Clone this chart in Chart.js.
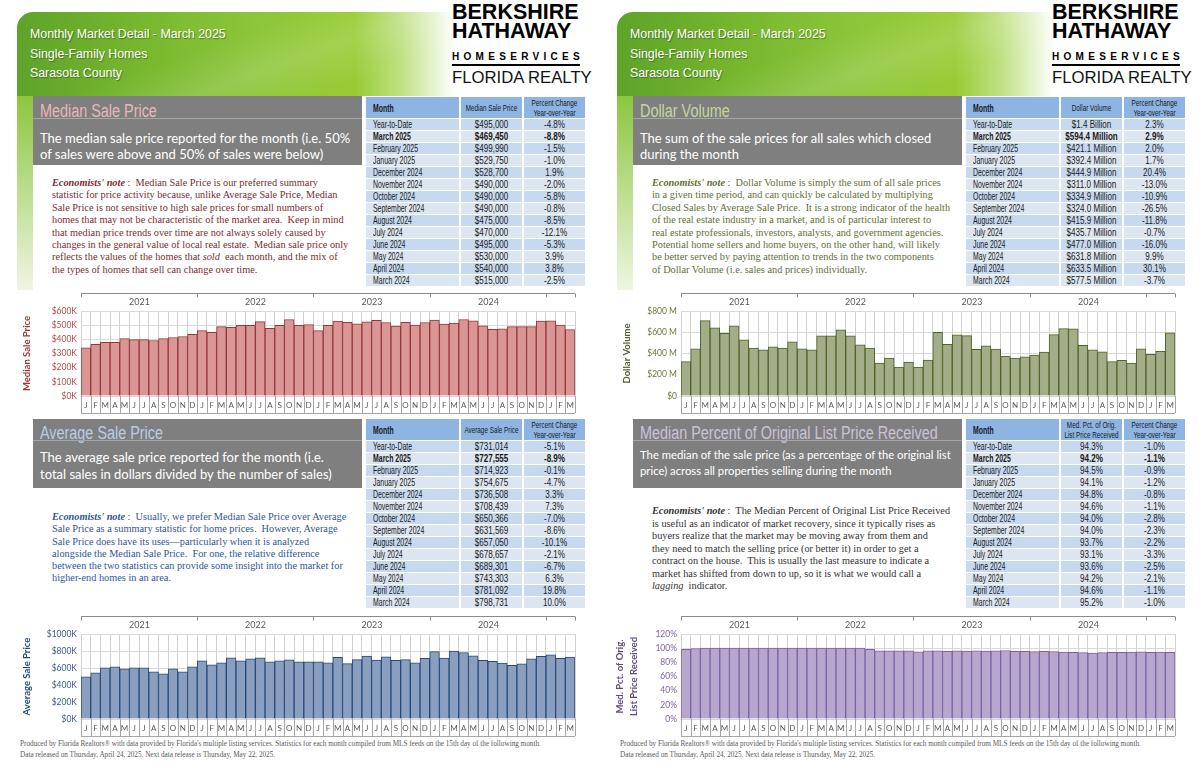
<!DOCTYPE html>
<html>
<head>
<meta charset="utf-8">
<script src="https://cdn.jsdelivr.net/npm/chart.js@4.4.1/dist/chart.umd.min.js"></script>
<style>
  body { margin: 0; width: 1200px; height: 776px; overflow: hidden; background: #fff; position: relative; font-family: 'Liberation Sans', sans-serif; }
  .panel { position: absolute; top: 0; width: 600px; height: 776px; }
  .hdr { position: absolute; left: 17px; top: 12px; width: 583px; height: 84px; border-top-left-radius: 16px;
    background: linear-gradient(160deg, rgba(255,255,255,0) 35%, rgba(255,255,255,0.13) 50%, rgba(255,255,255,0) 65%),
                linear-gradient(90deg, #5ea32a 0%, #78b82e 22%, #8dc63a 42%, #98cc35 58%, rgba(170,215,90,0.75) 66%, rgba(255,255,255,0) 75%); }
  .strip { position: absolute; left: 17px; top: 96px; width: 16px; height: 194px; background: linear-gradient(to bottom, #8cc63e, #eef6e2); }
  .htxt { position: absolute; left: 30px; color: #fff; font: 13px 'Liberation Sans', sans-serif; line-height: 19.5px; white-space: nowrap;
    transform: scaleX(0.95); transform-origin: 0 0; text-shadow: 1px 1px 1px rgba(0,0,0,0.35); }
  .logo1 { position: absolute; left: 452px; font: bold 21.5px 'Liberation Sans', sans-serif; line-height: 21.5px; color: #000; }
  .logo2 { position: absolute; left: 452px; top: 52px; font: bold 10px 'Liberation Sans', sans-serif; letter-spacing: 4.3px; line-height: 10px; color: #000; }
  .logoline { position: absolute; left: 452px; top: 64px; width: 128px; height: 1.5px; background: #000; }
  .logo3 { position: absolute; left: 452px; top: 68px; font: 16.7px 'Liberation Sans', sans-serif; line-height: 20px; color: #111; }
  .gbox { position: absolute; left: 33px; width: 329px; height: 69px; background: #7f7f7f; }
  .gtitle { position: absolute; left: 7px; font: 18px 'Liberation Sans', sans-serif; line-height: 20px; white-space: nowrap;
    transform: scaleX(0.8); transform-origin: 0 0; }
  .gline { position: absolute; left: 0; right: 0; height: 1px; background: #a6a6a6; }
  .gsub { position: absolute; left: 7px; color: #fff; font: 13px 'Lato', sans-serif; white-space: nowrap; }
  .note { position: absolute; left: 52px; font: 10.3px 'Liberation Serif', serif; white-space: nowrap; }
  .note b { font-style: italic; }
  table.t { position: absolute; left: 364px; width: 223px; table-layout: fixed; border-collapse: separate; border-spacing: 2px 1px;
    font-family: 'Liberation Sans', sans-serif; color: #1a1a1a; }
  table.t td { padding: 0; height: 11px; line-height: 11px; font-size: 10.5px; text-align: center; white-space: nowrap; overflow: visible; }
  table.t td.m { text-align: left; padding-left: 7px; width: 86px; }
  table.t td.v { width: 61px; }
  table.t .s1 { width: 151.5%; transform: scaleX(0.66); transform-origin: 0 50%; }
  table.t .s2 { width: 129.9%; transform: scaleX(0.77); transform-origin: 0 50%; }
  table.t .s3 { width: 138.9%; transform: scaleX(0.72); transform-origin: 0 50%; }
  table.t tr.h td { height: 21px; line-height: 10px; font-size: 8.8px; background: #8db4e2; }
  table.t tr.h td.m { font-size: 10.5px; font-weight: bold; }
  table.t tr.a td { background: #c6d9f1; }
  table.t tr.b td { background: #dce6f2; }
  table.t tr.bold td { font-weight: bold; }
  .cbox { position: absolute; left: 0; width: 590px; height: 130px; }
  .foot { position: absolute; left: 20px; font: 7.2px 'Liberation Serif', serif; color: #595959; line-height: 11px; white-space: nowrap; }
</style>
</head>
<body>

<div class="panel" id="leftPanel" style="left:0">
  <div class="hdr"></div>
  <div class="strip"></div>
  <div class="htxt" style="top:24px">Monthly Market Detail - March 2025<br>Single-Family Homes<br>Sarasota County</div>
  <div class="logo1" style="top:2px">BERKSHIRE</div>
  <div class="logo1" style="top:21px">HATHAWAY</div>
  <div class="logo2">HOMESERVICES</div>
  <div class="logoline"></div>
  <div class="logo3">FLORIDA REALTY</div>

  <div class="gbox" style="top:96px">
    <div class="gtitle" style="top:5px;color:#e6b9b8">Median Sale Price</div>
    <div class="gline" style="top:22px"></div>
    <div class="gsub" style="top:34px;line-height:16px">The median sale price reported for the month (i.e. 50%<br>of sales were above and 50% of sales were below)</div>
  </div>
  <div class="note" style="top:177px;line-height:12.4px;color:#7b2c30">
    <div><b>Economists' note</b> :&nbsp; Median Sale Price is our preferred summary</div>
    <div>statistic for price activity because, unlike Average Sale Price, Median</div>
    <div>Sale Price is not sensitive to high sale prices for small numbers of</div>
    <div>homes that may not be characteristic of the market area.&nbsp; Keep in mind</div>
    <div>that median price trends over time are not always solely caused by</div>
    <div>changes in the general value of local real estate.&nbsp; Median sale price only</div>
    <div>reflects the values of the homes that <i>sold</i>&nbsp; each month, and the mix of</div>
    <div>the types of homes that sell can change over time.</div>
  </div>
  <table class="t" id="tblMedian" style="top:96px"></table>
  <div class="cbox" style="top:286px"><canvas id="chartMedian"></canvas></div>

  <div class="gbox" style="top:419px">
    <div class="gtitle" style="top:4px;color:#b9cde5">Average Sale Price</div>
    <div class="gline" style="top:21px"></div>
    <div class="gsub" style="top:30px;line-height:17.4px">The average sale price reported for the month (i.e.<br>total sales in dollars divided by the number of sales)</div>
  </div>
  <div class="note" style="top:511px;line-height:12.3px;color:#2f5597">
    <div><b>Economists' note</b> :&nbsp; Usually, we prefer Median Sale Price over Average</div>
    <div>Sale Price as a summary statistic for home prices.&nbsp; However, Average</div>
    <div>Sale Price does have its uses—particularly when it is analyzed</div>
    <div>alongside the Median Sale Price.&nbsp; For one, the relative difference</div>
    <div>between the two statistics can provide some insight into the market for</div>
    <div>higher-end homes in an area.</div>
  </div>
  <table class="t" id="tblAverage" style="top:418px"></table>
  <div class="cbox" style="top:609px"><canvas id="chartAverage"></canvas></div>

  <div class="foot" style="top:739px">Produced by Florida Realtors® with data provided by Florida's multiple listing services. Statistics for each month compiled from MLS feeds on the 15th day of the following month.<br>Data released on Thursday, April 24, 2025. Next data release is Thursday, May 22, 2025.</div>
</div>

<div class="panel" id="rightPanel" style="left:600px">
  <div class="hdr"></div>
  <div class="strip"></div>
  <div class="htxt" style="top:24px">Monthly Market Detail - March 2025<br>Single-Family Homes<br>Sarasota County</div>
  <div class="logo1" style="top:2px">BERKSHIRE</div>
  <div class="logo1" style="top:21px">HATHAWAY</div>
  <div class="logo2">HOMESERVICES</div>
  <div class="logoline"></div>
  <div class="logo3">FLORIDA REALTY</div>

  <div class="gbox" style="top:96px">
    <div class="gtitle" style="top:5px;color:#c4d79b">Dollar Volume</div>
    <div class="gline" style="top:22px"></div>
    <div class="gsub" style="top:34px;line-height:16px">The sum of the sale prices for all sales which closed<br>during the month</div>
  </div>
  <div class="note" style="top:177px;line-height:12.4px;color:#5f6f35">
    <div><b>Economists' note</b> :&nbsp; Dollar Volume is simply the sum of all sale prices</div>
    <div>in a given time period, and can quickly be calculated by multiplying</div>
    <div>Closed Sales by Average Sale Price.&nbsp; It is a strong indicator of the health</div>
    <div>of the real estate industry in a market, and is of particular interest to</div>
    <div>real estate professionals, investors, analysts, and government agencies.</div>
    <div>Potential home sellers and home buyers, on the other hand, will likely</div>
    <div>be better served by paying attention to trends in the two components</div>
    <div>of Dollar Volume (i.e. sales and prices) individually.</div>
  </div>
  <table class="t" id="tblVolume" style="top:96px"></table>
  <div class="cbox" style="top:286px"><canvas id="chartVolume"></canvas></div>

  <div class="gbox" style="top:419px">
    <div class="gtitle" style="top:4px;color:#ccc1da">Median Percent of Original List Price Received</div>
    <div class="gline" style="top:21px"></div>
    <div class="gsub" style="top:28px;line-height:16px;font-size:11.3px">The median of the sale price (as a percentage of the original list<br>price) across all properties selling during the month</div>
  </div>
  <div class="note" style="top:505px;line-height:12.5px;color:#333">
    <div><b>Economists' note</b> :&nbsp; The Median Percent of Original List Price Received</div>
    <div>is useful as an indicator of market recovery, since it typically rises as</div>
    <div>buyers realize that the market may be moving away from them and</div>
    <div>they need to match the selling price (or better it) in order to get a</div>
    <div>contract on the house.&nbsp; This is usually the last measure to indicate a</div>
    <div>market has shifted from down to up, so it is what we would call a</div>
    <div><i>lagging</i>&nbsp; indicator.</div>
  </div>
  <table class="t" id="tblPct" style="top:418px"></table>
  <div class="cbox" style="top:609px"><canvas id="chartPct"></canvas></div>

  <div class="foot" style="top:739px">Produced by Florida Realtors® with data provided by Florida's multiple listing services. Statistics for each month compiled from MLS feeds on the 15th day of the following month.<br>Data released on Thursday, April 24, 2025. Next data release is Thursday, May 22, 2025.</div>
</div>

<script>
// Categorias: enero 2021 a marzo 2025
const monthLabels = [
  'J','F','M','A','M','J','J','A','S','O','N','D',
  'J','F','M','A','M','J','J','A','S','O','N','D',
  'J','F','M','A','M','J','J','A','S','O','N','D',
  'J','F','M','A','M','J','J','A','S','O','N','D',
  'J','F','M'
];
const yearLabels = ['2021', '2022', '2023', '2024'];
const monthsPerYear = 12;

// Precio mediano (miles de $)
const medianPrice = [
  340, 365, 378, 378, 405, 398, 398, 392, 405, 413, 420, 435,
  462, 450, 490, 485, 498, 498, 525, 478, 498, 540, 498, 505,
  462, 498, 528.2, 520.2, 510, 522.7, 534.7, 519, 494, 520, 500, 518.8,
  535.1, 507.6, 515, 540, 530, 495, 470, 475, 490, 490, 490, 528.7,
  529.75, 499.99, 469.45
];
// Volumen en dolares (millones de $)
const dollarVolume = [
  323, 443, 709, 642, 589, 661, 528, 452, 434, 462, 452, 509,
  443, 434, 566, 566, 623, 566, 481, 452, 310, 358, 272, 320,
  272, 339, 599.7, 486.9, 574.9, 567.9, 438.8, 471.5, 440.8, 375.9, 357.5, 369.5,
  385.8, 412.8, 577.5, 633.5, 631.8, 477, 435.7, 415.9, 324, 334.9, 311, 444.9,
  392.4, 421.1, 594.4
];
// Precio promedio (miles de $)
const averagePrice = [
  496, 543, 602, 614, 590, 602, 602, 555, 531, 590, 555, 614,
  685, 638, 661, 720, 685, 709, 720, 673, 685, 697, 673, 673,
  673, 661, 726.1, 652, 699.3, 738.8, 693.2, 730.9, 691, 699.3, 660.2, 713,
  791.9, 715.6, 798.7, 781.1, 743.3, 689.3, 678.7, 657.1, 631.6, 650.4, 708.4, 736.5,
  754.7, 714.9, 727.6
];
// Porcentaje mediano del precio original
const pctOrigList = [
  98.3, 99.5, 100, 100, 100, 100, 100, 100, 100, 100, 100, 100,
  100, 100, 100, 100, 100, 100, 100, 98.3, 96.4, 96.4, 96.4, 96.4,
  95, 96.2, 96.2, 95.7, 96.3, 96.0, 96.3, 95.8, 96.2, 96.7, 95.7, 95.6,
  95.2, 95.4, 95.2, 94.6, 94.2, 93.6, 93.1, 93.7, 94.0, 94.0, 94.6, 94.8,
  94.1, 94.5, 94.2
];

// Tablas
const tableMonths = ['Year-to-Date', 'March 2025', 'February 2025', 'January 2025', 'December 2024', 'November 2024',
  'October 2024', 'September 2024', 'August 2024', 'July 2024', 'June 2024', 'May 2024', 'April 2024', 'March 2024'];
const medianTable = ['$495,000', '$469,450', '$499,990', '$529,750', '$528,700', '$490,000', '$490,000',
  '$490,000', '$475,000', '$470,000', '$495,000', '$530,000', '$540,000', '$515,000'];
const medianChange = ['-4.8%', '-8.8%', '-1.5%', '-1.0%', '1.9%', '-2.0%', '-5.8%', '-0.8%', '-8.5%', '-12.1%', '-5.3%', '3.9%', '3.8%', '-2.5%'];
const volumeTable = ['$1.4 Billion', '$594.4 Million', '$421.1 Million', '$392.4 Million', '$444.9 Million', '$311.0 Million',
  '$334.9 Million', '$324.0 Million', '$415.9 Million', '$435.7 Million', '$477.0 Million', '$631.8 Million', '$633.5 Million', '$577.5 Million'];
const volumeChange = ['2.3%', '2.9%', '2.0%', '1.7%', '20.4%', '-13.0%', '-10.9%', '-26.5%', '-11.8%', '-0.7%', '-16.0%', '9.9%', '30.1%', '-3.7%'];
const averageTable = ['$731,014', '$727,555', '$714,923', '$754,675', '$736,508', '$708,439', '$650,366',
  '$631,569', '$657,050', '$678,657', '$689,301', '$743,303', '$781,092', '$798,731'];
const averageChange = ['-5.1%', '-8.9%', '-0.1%', '-4.7%', '3.3%', '7.3%', '-7.0%', '-8.6%', '-10.1%', '-2.1%', '-6.7%', '6.3%', '19.8%', '10.0%'];
const pctTable = ['94.3%', '94.2%', '94.5%', '94.1%', '94.8%', '94.6%', '94.0%', '94.0%', '93.7%', '93.1%', '93.6%', '94.2%', '94.6%', '95.2%'];
const pctChange = ['-1.0%', '-1.1%', '-0.9%', '-1.2%', '-0.8%', '-1.1%', '-2.8%', '-2.3%', '-2.2%', '-3.3%', '-2.5%', '-2.1%', '-1.1%', '-1.0%'];

function buildTable(id, header, values, changes) {
    let html = '<tr class="h"><td class="m"><div class="s1">Month</div></td><td class="v"><div class="s3">' + header +
        '</div></td><td class="v"><div class="s3">Percent Change<br>Year-over-Year</div></td></tr>';
    tableMonths.forEach((m, i) => {
        const cls = (i % 2 === 0 ? 'a' : 'b') + (i === 1 ? ' bold' : '');
        html += '<tr class="' + cls + '"><td class="m"><div class="s1">' + m + '</div></td><td class="v"><div class="s2">' + values[i] +
            '</div></td><td class="v"><div class="s2">' + changes[i] + '</div></td></tr>';
    });
    document.getElementById(id).innerHTML = html;
}

buildTable('tblMedian', 'Median Sale Price', medianTable, medianChange);
buildTable('tblVolume', 'Dollar Volume', volumeTable, volumeChange);
buildTable('tblAverage', 'Average Sale Price', averageTable, averageChange);
buildTable('tblPct', 'Med. Pct. of Orig.<br>List Price Received', pctTable, pctChange);

// Plugin: separadores de meses abajo y corchete de años arriba
const yearBracket = {
    id: 'yearBracket',
    afterDraw(chart) {
        const {ctx, chartArea: a, scales: {x}} = chart;
        const half = (x.getPixelForValue(1) - x.getPixelForValue(0)) / 2;
        const edge = i => Math.round(x.getPixelForValue(i) - half) + 0.5;
        ctx.save();
        ctx.lineWidth = 1;
        ctx.strokeStyle = '#a6a6a6';
        ctx.beginPath();
        for (let i = 0; i <= monthLabels.length; i++) {
            ctx.moveTo(edge(i), a.bottom);
            ctx.lineTo(edge(i), a.bottom + 17);
        }
        ctx.moveTo(a.left, a.bottom + 17.5);
        ctx.lineTo(a.right, a.bottom + 17.5);
        ctx.stroke();

        const ty = Math.round(a.top - 18) + 0.5;
        ctx.strokeStyle = '#8c8c8c';
        ctx.beginPath();
        ctx.moveTo(a.left, ty);
        ctx.lineTo(a.right, ty);
        for (let k = 0; k <= yearLabels.length; k++) {
            ctx.moveTo(edge(k * monthsPerYear), ty);
            ctx.lineTo(edge(k * monthsPerYear), ty + 4);
        }
        ctx.moveTo(edge(monthLabels.length), ty);
        ctx.lineTo(edge(monthLabels.length), ty + 4);
        ctx.stroke();

        ctx.fillStyle = '#595959';
        ctx.font = '9px Lato, sans-serif';
        ctx.textAlign = 'center';
        ctx.textBaseline = 'middle';
        yearLabels.forEach((y, k) => {
            const cx = (edge(k * monthsPerYear) + edge((k + 1) * monthsPerYear)) / 2;
            ctx.fillText(y, cx, a.top - 9);
        });
        ctx.restore();
    }
};

function renderBarChart(id, values, s) {
    const ctx = document.getElementById(id).getContext('2d');
    new Chart(ctx, {
        type: 'bar',
        data: {
            labels: monthLabels,
            datasets: [{
                data: values,
                backgroundColor: s.fill,
                borderColor: s.line,
                borderWidth: 1,
                barPercentage: 1,
                categoryPercentage: 1
            }]
        },
        options: {
            responsive: true,
            maintainAspectRatio: false,
            animation: false,
            layout: { padding: { top: 25, right: 15, left: 0, bottom: 0 } },
            plugins: { legend: { display: false }, tooltip: { enabled: false } },
            scales: {
                x: {
                    grid: { color: '#d0d0d0', drawTicks: false, offset: true },
                    border: { display: false },
                    ticks: { color: '#595959', font: { size: 8, family: 'Lato' }, padding: 5, autoSkip: false, maxRotation: 0 },
                    afterFit: scale => { scale.height = 20; }
                },
                y: {
                    min: 0,
                    max: s.max,
                    ticks: { stepSize: s.step, color: s.tick, font: { size: 8.5, family: 'Lato' }, padding: 4, callback: s.fmt },
                    grid: { color: '#d9d9d9', drawTicks: false },
                    border: { display: false },
                    title: {
                        display: true,
                        text: s.title,
                        color: s.titleColor,
                        font: { size: 9.5, weight: 'bold', family: 'Lato', lineHeight: s.titleLH || 1.2 },
                        padding: { top: s.titlePad }
                    },
                    afterFit: scale => { scale.width = 81; }
                }
            }
        },
        plugins: [yearBracket]
    });
}

document.addEventListener('DOMContentLoaded', () => {
    renderBarChart('chartMedian', medianPrice, {
        fill: '#d99694', line: '#953735', tick: '#b04a4a', titleColor: '#953735',
        max: 600, step: 100, fmt: v => '$' + v + 'K', title: 'Median Sale Price', titlePad: 21
    });
    renderBarChart('chartVolume', dollarVolume, {
        fill: '#a3ad87', line: '#4f6228', tick: '#6b7a3a', titleColor: '#4f6228',
        max: 800, step: 200, fmt: v => v === 0 ? '$0' : '$' + v + ' M', title: 'Dollar Volume', titlePad: 21
    });
    renderBarChart('chartAverage', averagePrice, {
        fill: '#8a9fbf', line: '#254a7a', tick: '#3b5a8a', titleColor: '#1f497d',
        max: 1000, step: 200, fmt: v => '$' + v + 'K', title: 'Average Sale Price', titlePad: 21
    });
    renderBarChart('chartPct', pctOrigList, {
        fill: '#b7a7cf', line: '#7a62a3', tick: '#8064a2', titleColor: '#604a7b',
        max: 120, step: 20, fmt: v => v + '%', title: ['Med. Pct. of Orig.', 'List Price Received'],
        titlePad: 13, titleLH: 1.45
    });
});
</script>
</body>
</html>
